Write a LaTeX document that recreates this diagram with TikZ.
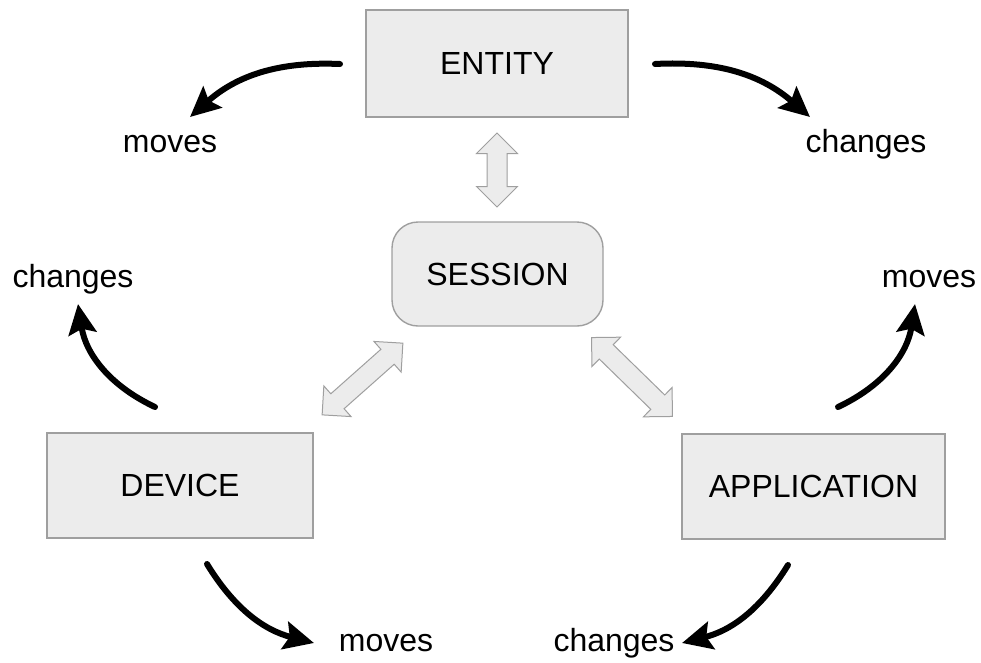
\documentclass[tikz,border=0pt]{standalone}
\usepackage{fontspec}
\setmainfont{Liberation Sans}
\usetikzlibrary{arrows.meta,shapes.arrows,positioning,calc}

\begin{document}
\begin{tikzpicture}[x=1pt,y=1pt,
    box/.style={draw=gray!75, line width=1.4pt, fill=gray!15, inner sep=0pt,
                font=\fontsize{32}{38}\selectfont},
    lbl/.style={anchor=base, inner sep=0pt, font=\fontsize{32}{38}\selectfont},
    flow/.style={line width=6pt, line cap=round,
                 -{Stealth[length=30pt,width=28pt,inset=5pt]}},
    link/.style={double arrow, draw=gray!75, line width=1pt, fill=gray!15,
                 inner sep=9.5pt, double arrow head extend=10.5pt}]
  \useasboundingbox (0,0) rectangle (981,-662);

  % Boxes
  \node[box, minimum width=262pt, minimum height=107pt] (entity) at (497,-63.5) {ENTITY};
  \node[box, rounded corners=26pt, minimum width=211pt, minimum height=104pt] (session) at (497.5,-274) {SESSION};
  \node[box, minimum width=266pt, minimum height=105pt] (device) at (180,-485.5) {DEVICE};
  \node[box, minimum width=263pt, minimum height=105pt] (application) at (813.5,-486.5) {APPLICATION};

  % Labels
  \node[lbl] (entmoves) at (170,-152) {moves};
  \node[lbl] (entchanges) at (866,-152) {changes};
  \node[lbl] (devchanges) at (73,-287) {changes};
  \node[lbl] (appmoves) at (929,-287) {moves};
  \node[lbl] (devmoves) at (386,-651) {moves};
  \node[lbl] (appchanges) at (614,-651) {changes};

  % Links to the session
  \node[link, minimum height=74pt, rotate=90] (entlink) at (497,-170) {};
  \node[link, minimum height=108pt, rotate=41.6] (devlink) at (362.5,-379) {};
  \node[link, minimum height=113pt, rotate=-44.3] (applink) at (632,-377) {};

  % Ends of the curved arrows
  \coordinate (e1) at (340,-64);   \coordinate (e1t) at (190,-117);
  \coordinate (e2) at (655,-64);   \coordinate (e2t) at (810,-117);
  \coordinate (d1) at (155,-407);  \coordinate (d1t) at (78,-304);
  \coordinate (d2) at (207,-564);  \coordinate (d2t) at (314,-643);
  \coordinate (a1) at (838,-407);  \coordinate (a1t) at (915,-304);
  \coordinate (a2) at (788,-565);  \coordinate (a2t) at (682,-643);

  \draw[flow] (e1) to[bend right=22] (e1t);
  \draw[flow] (e2) to[bend left=22] (e2t);
  \draw[flow] (d1) to[bend left=28] (d1t);
  \draw[flow] (d2) to[bend right=22] (d2t);
  \draw[flow] (a1) to[bend right=28] (a1t);
  \draw[flow] (a2) to[bend left=22] (a2t);
\end{tikzpicture}
\end{document}
